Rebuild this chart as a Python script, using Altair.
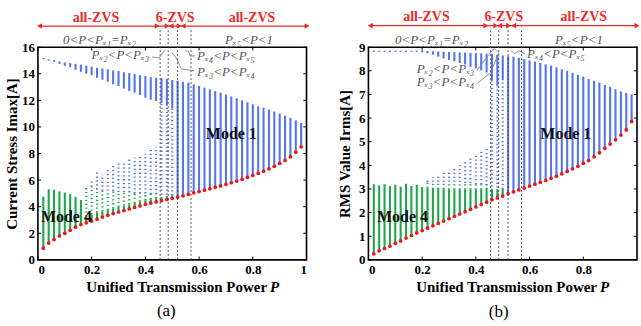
import altair as alt
import pandas as pd

FONT = "Liberation Serif"
BLUE = "#5474f2"
GREEN = "#1fa64a"
RED = "#f01414"
ARROW = "#f02828"
GREY = "#555555"

# unified transmission power samples
P = [0.02, 0.04, 0.06, 0.08, 0.10, 0.12, 0.14, 0.16, 0.18, 0.20,
     0.22, 0.24, 0.26, 0.28, 0.30, 0.32, 0.34, 0.36, 0.38, 0.40,
     0.42, 0.44, 0.46, 0.48, 0.50, 0.52, 0.54, 0.56, 0.58, 0.60,
     0.62, 0.64, 0.66, 0.68, 0.70, 0.72, 0.74, 0.76, 0.78, 0.80,
     0.82, 0.84, 0.86, 0.88, 0.90, 0.92, 0.94, 0.96, 0.98]
N = None

# ---------------- panel (a): current stress Imax ----------------
a_red = [0.88, 1.26, 1.53, 1.80, 2.00, 2.23, 2.46, 2.65, 2.79, 2.92,
         3.06, 3.22, 3.35, 3.48, 3.60, 3.71, 3.83, 3.94, 4.06, 4.18,
         4.28, 4.36, 4.45, 4.54, 4.63, 4.72, 4.82, 4.93, 5.04, 5.14,
         5.24, 5.34, 5.46, 5.56, 5.68, 5.80, 5.93, 6.06, 6.20, 6.35,
         6.50, 6.66, 6.84, 7.04, 7.25, 7.48, 7.75, 8.10, 8.50]
a_green_top = [4.75, 5.30, 5.28, 5.15, 5.05, 4.95, 4.75, 4.50, 3.25, 3.40,
               3.55, 3.65, 3.75, 3.88, 3.98, 4.08, 4.18, 4.28, 4.38, 4.48,
               4.56, 4.63, 4.72, 4.80, 4.85] + [N] * 24
a_green_dot_hi = [N] * 8 + [5.5, 5.5,
                  5.3, 5.2, 5.2, 5.2, 5.1, 5.1, 5.1, 5.0, 5.0, 5.0,
                  4.95, 4.95] + [N] * 27
a_bdot_lo = [N] * 9 + [5.5,
             5.3, 5.2, 5.2, 5.2, 5.1, 5.1, 5.1, 5.0, 5.0, 5.0,
             4.95, 4.95, 4.9, 4.9, 4.85] + [N] * 24
a_bdot_hi = [N] * 9 + [6.0,
             6.6, 6.4, 6.9, 7.1, 7.3, 7.4, 7.6, 7.7, 7.9, 8.0,
             8.3, 8.5, 11.8, 11.6, 11.4] + [N] * 24
a_blue_lo = [15.10, 15.00, 14.90, 14.75, 14.60, 14.50, 14.30, 14.15, 14.00, 13.88,
             13.70, 13.55, 13.40, 13.20, 13.08, 12.88, 12.70, 12.58, 12.40, 12.20,
             12.05, 11.95, 11.80, 11.60, 11.40] + [N] * 24
a_blue_hi = [15.20, 15.10, 15.02, 14.92, 14.85, 14.80, 14.75, 14.68, 14.60, 14.53,
             14.45, 14.40, 14.33, 14.25, 14.20, 14.12, 14.05, 13.98, 13.90, 13.83,
             13.75, 13.70, 13.68, 13.60, 13.53, 13.48, 13.40, 13.33, 13.20, 13.08,
             12.95, 12.83, 12.70, 12.58, 12.45, 12.30, 12.15, 12.00, 11.85, 11.70,
             11.55, 11.45, 11.30, 11.15, 11.00, 10.85, 10.68, 10.50, 10.30]

# ---------------- panel (b): RMS value Irms ----------------
b_red = [0.25, 0.38, 0.48, 0.58, 0.70, 0.80, 0.92, 1.03, 1.14, 1.24,
         1.34, 1.44, 1.54, 1.64, 1.74, 1.84, 1.94, 2.04, 2.14, 2.24,
         2.34, 2.44, 2.54, 2.62, 2.70, 2.80, 2.88, 2.96, 3.04, 3.12,
         3.20, 3.28, 3.36, 3.45, 3.54, 3.64, 3.74, 3.85, 3.96, 4.08,
         4.20, 4.36, 4.53, 4.72, 4.90, 5.08, 5.28, 5.50, 5.85]
b_green_top = [3.20, 3.15, 3.20, 3.12, 3.18, 3.10, 3.22, 3.12, 3.18, 3.08,
               3.05, 3.00, 3.00, 3.00, 2.98, 2.98, 2.98, 2.98, 2.98, 2.98,
               2.98, 3.00, 3.00, 3.00, 3.00] + [N] * 24
b_green_dot_hi = [N] * 10 + [3.3, 3.3, 3.3, 3.3, 3.3, 3.3, 3.3, 3.3, 3.3, 3.25,
                             3.25, 3.2] + [N] * 27
b_bdot_lo = [N] * 10 + [3.3, 3.3, 3.3, 3.3, 3.3, 3.3, 3.3, 3.25, 3.25, 3.2,
                        3.2, 3.15, 3.1, 3.05, 3.0] + [N] * 24
b_bdot_hi = [N] * 10 + [3.4, 3.5, 3.6, 3.7, 3.8, 3.9, 4.0, 4.2, 4.3, 4.45,
                        4.6, 4.8, 7.6, 7.4, 7.6] + [N] * 24
b_blue_lo = [8.80, 8.80, 8.80, 8.80, 8.80, 8.80, 8.80, 8.80, 8.80, 8.78,
             8.74, 8.68, 8.60, 8.52, 8.46, 8.40, 8.33, 8.27, 8.17, 8.10,
             8.02, 7.93, 7.60, 7.40, 7.60] + [N] * 24
b_blue_hi = [8.85, 8.85, 8.85, 8.85, 8.85, 8.85, 8.85, 8.85, 8.85, 8.85,
             8.84, 8.83, 8.82, 8.81, 8.80, 8.79, 8.78, 8.77, 8.76, 8.75,
             8.74, 8.73, 8.72, 8.68, 8.65, 8.62, 8.60, 8.55, 8.50, 8.44,
             8.39, 8.33, 8.27, 8.22, 8.15, 8.07, 8.00, 7.92, 7.83, 7.75,
             7.66, 7.58, 7.50, 7.40, 7.32, 7.22, 7.13, 7.06, 7.00]

# boundaries Px1..Px5 (dashed lines)
P_bounds = [0.455, 0.485, 0.52, 0.57]

# ---------------- annotation content (data coordinates) ----------------
ANN = {
    "a": dict(
        zvs=[("all-ZVS", 0.216), ("6-ZVS", 0.511), ("all-ZVS", 0.797)], zvs_v=18.22,
        arrow_v=17.59, arrow_span=[0.006, 1.002],
        heads=[(0.006, "L"), (0.444, "R"), (0.481, "R"), (0.496, "L"),
               (0.526, "R"), (0.541, "L"), (1.002, "R")],
        dash_top=17.4,
        regions=[("0<P<Pₓ₁=Pₓ₂", 0.229, 16.54), ("Pₓ₅<P<1", 0.786, 16.54),
                 ("Pₓ₂<P<Pₓ₃", 0.307, 15.42), ("Pₓ₄<P<Pₓ₅", 0.70, 15.34),
                 ("Pₓ₃<P<Pₓ₄", 0.70, 14.16)],
        leaders=[[(0.426, 15.26), (0.452, 15.19), (0.463, 15.56), (0.474, 15.79)],
                 [(0.586, 15.34), (0.567, 15.34), (0.56, 15.71), (0.548, 15.71)],
                 [(0.582, 14.21), (0.534, 14.36), (0.515, 15.19), (0.50, 15.56)]],
        modes=[("Mode 1", 0.72, 9.5), ("Mode 4", 0.106, 3.23)],
        caption=("(a)", 0.478, -3.83),
        xtitle=("Unified Transmission Power", 0.853, "P", 0.864, -2.07),
        ymax=16, yticks=[0, 2, 4, 6, 8, 10, 12, 14, 16],
        xticks=[0, 0.2, 0.4, 0.6, 0.8, 1],
        ytitle="Current Stress Imax[A]", tick_v=0.25),
    "b": dict(
        zvs=[("all-ZVS", 0.216), ("6-ZVS", 0.504), ("all-ZVS", 0.802)], zvs_v=10.27,
        arrow_v=9.91, arrow_span=[0.007, 1.0],
        heads=[(0.007, "L"), (0.437, "R"), (0.474, "R"), (0.489, "L"),
               (0.522, "R"), (0.541, "L"), (1.0, "R")],
        dash_top=9.83,
        regions=[("0<P<Pₓ₁=Pₓ₂", 0.235, 9.32), ("Pₓ₅<P<1", 0.784, 9.32),
                 ("Pₓ₂<P<Pₓ₃", 0.287, 8.09), ("Pₓ₃<P<Pₓ₄", 0.287, 7.51),
                 ("Pₓ₄<P<Pₓ₅", 0.698, 8.73)],
        leaders=[[(0.403, 8.0), (0.459, 8.85), (0.47, 8.93), (0.481, 8.8)],
                 [(0.403, 7.45), (0.455, 7.92), (0.485, 8.77)],
                 [(0.582, 8.73), (0.56, 8.85), (0.545, 8.73), (0.53, 8.85)]],
        modes=[("Mode 1", 0.735, 5.34), ("Mode 4", 0.127, 1.8)],
        caption=("(b)", 0.485, -2.19),
        xtitle=("Unified Transmission Power", 0.851, "P", 0.862, -1.17),
        ymax=9, yticks=[0, 1, 2, 3, 4, 5, 6, 7, 8, 9],
        xticks=[0, 0.2, 0.4, 0.6, 0.8],
        ytitle="RMS Value Irms[A]", tick_v=0.14),
}


def panel(red, g_top, g_dot_hi, bd_lo, bd_hi, b_lo, b_hi, ann, title_pad):
    rows = []
    for i, p in enumerate(P):
        base = g_top[i] if g_top[i] is not None else red[i]
        if g_top[i] is not None:
            rows.append({"P": p, "v": red[i], "v2": g_top[i], "kind": "green"})
        if g_dot_hi[i] is not None:
            rows.append({"P": p, "v": base, "v2": g_dot_hi[i], "kind": "greendot"})
        if bd_lo[i] is not None:
            rows.append({"P": p, "v": bd_lo[i], "v2": bd_hi[i], "kind": "bluedot"})
        lo = b_lo[i] if b_lo[i] is not None else base
        rows.append({"P": p, "v": lo, "v2": b_hi[i], "kind": "blue"})
    seg = pd.DataFrame(rows)
    red_df = pd.DataFrame({"P": P, "v": red})

    ymax = ann["ymax"]
    x = alt.X("P:Q", scale=alt.Scale(domain=[0, 1], nice=False, zero=False),
              axis=alt.Axis(values=ann["xticks"], format="~g", title=None,
                            labelPadding=4))
    y = alt.Y("v:Q", scale=alt.Scale(domain=[0, ymax], nice=False, zero=False),
              axis=alt.Axis(values=ann["yticks"], title=ann["ytitle"],
                            labelPadding=3.5, titlePadding=title_pad))

    base = alt.Chart(seg)
    blue = base.transform_filter("datum.kind == 'blue'").mark_rule(
        color=BLUE, strokeWidth=2.1).encode(x=x, y=y, y2="v2:Q")
    bluedot = base.transform_filter("datum.kind == 'bluedot'").mark_rule(
        color=BLUE, strokeWidth=2.1, strokeDash=[1.3, 2.6]).encode(x=x, y=y, y2="v2:Q")
    green = base.transform_filter("datum.kind == 'green'").mark_rule(
        color=GREEN, strokeWidth=2.1).encode(x=x, y=y, y2="v2:Q")
    greendot = base.transform_filter("datum.kind == 'greendot'").mark_rule(
        color=GREEN, strokeWidth=2.1, strokeDash=[1.3, 2.6]).encode(x=x, y=y, y2="v2:Q")
    reds = alt.Chart(red_df).mark_circle(color=RED, size=14, opacity=1).encode(x=x, y=y)

    dash_df = pd.DataFrame({"P": P_bounds, "v": [0] * len(P_bounds),
                            "v2": [ann["dash_top"]] * len(P_bounds)})
    dashes = alt.Chart(dash_df).mark_rule(color="#444444", strokeWidth=0.9,
                                          strokeDash=[2, 2]).encode(x=x, y=y, y2="v2:Q")

    # inward ticks
    tv = ann["tick_v"]
    xt_rows = []
    for t in ann["xticks"]:
        xt_rows.append({"P": t, "v": 0, "v2": tv})
        xt_rows.append({"P": t, "v": ymax - tv, "v2": ymax})
    xt = alt.Chart(pd.DataFrame(xt_rows)).mark_rule(color="black", strokeWidth=1).encode(
        x=x, y=y, y2="v2:Q")
    yt_rows = []
    for t in ann["yticks"]:
        yt_rows.append({"P": 0, "P2": 0.012, "v": t})
        yt_rows.append({"P": 0.988, "P2": 1, "v": t})
    yt = alt.Chart(pd.DataFrame(yt_rows)).mark_rule(color="black", strokeWidth=1).encode(
        x=x, x2="P2:Q", y=y)

    # top red ZVS annotations
    zvs_df = pd.DataFrame({"text": [t for t, _ in ann["zvs"]],
                           "P": [p for _, p in ann["zvs"]],
                           "v": [ann["zvs_v"]] * len(ann["zvs"])})
    zvs = alt.Chart(zvs_df).mark_text(font=FONT, fontSize=14, fontWeight="bold",
                                      color=ARROW).encode(x=x, y=y, text="text:N")
    arr_df = pd.DataFrame({"P": ann["arrow_span"], "v": [ann["arrow_v"]] * 2})
    arr = alt.Chart(arr_df).mark_line(color=ARROW, strokeWidth=1.2).encode(x=x, y=y)
    hl = pd.DataFrame({"P": [p for p, d in ann["heads"] if d == "L"]})
    hl["v"] = ann["arrow_v"]
    hr = pd.DataFrame({"P": [p for p, d in ann["heads"] if d == "R"]})
    hr["v"] = ann["arrow_v"]
    head_l = alt.Chart(hl).mark_point(shape="triangle-left", filled=True, size=32,
                                      color=ARROW, opacity=1).encode(x=x, y=y)
    head_r = alt.Chart(hr).mark_point(shape="triangle-right", filled=True, size=32,
                                      color=ARROW, opacity=1).encode(x=x, y=y)

    reg_df = pd.DataFrame(ann["regions"], columns=["text", "P", "v"])
    regs = alt.Chart(reg_df).mark_text(font=FONT, fontSize=13, fontStyle="italic",
                                       color=GREY).encode(x=x, y=y, text="text:N")
    lrows = []
    for g, pts in enumerate(ann["leaders"]):
        for i, (p, v) in enumerate(pts):
            lrows.append({"g": g, "i": i, "P": p, "v": v})
    leaders = alt.Chart(pd.DataFrame(lrows)).mark_line(color="#777777", strokeWidth=0.8).encode(
        x=x, y=y, detail="g:N", order="i:Q")

    mode_df = pd.DataFrame(ann["modes"], columns=["text", "P", "v"])
    modes = alt.Chart(mode_df).mark_text(font=FONT, fontSize=16, fontWeight="bold",
                                         color="#111111").encode(x=x, y=y, text="text:N")
    cap_df = pd.DataFrame([ann["caption"]], columns=["text", "P", "v"])
    cap = alt.Chart(cap_df).mark_text(font=FONT, fontSize=17, color="black").encode(
        x=x, y=y, text="text:N")

    t1, p1, t2, p2, tv_ = ann["xtitle"]
    xt1 = alt.Chart(pd.DataFrame({"text": [t1], "P": [p1], "v": [tv_]})).mark_text(
        font=FONT, fontSize=15, fontWeight="bold", align="right", color="black").encode(
        x=x, y=y, text="text:N")
    xt2 = alt.Chart(pd.DataFrame({"text": [t2], "P": [p2], "v": [tv_]})).mark_text(
        font=FONT, fontSize=15, fontWeight="bold", fontStyle="italic", align="left",
        color="black").encode(x=x, y=y, text="text:N")

    return alt.layer(blue, bluedot, green, greendot, reds, dashes, xt, yt,
                     arr, head_l, head_r, zvs, regs, leaders, modes, cap,
                     xt1, xt2).properties(width=269, height=213)


pa = panel(a_red, a_green_top, a_green_dot_hi, a_bdot_lo, a_bdot_hi,
           a_blue_lo, a_blue_hi, ANN["a"], 1.5)
pb = panel(b_red, b_green_top, b_green_dot_hi, b_bdot_lo, b_bdot_hi,
           b_blue_lo, b_blue_hi, ANN["b"], 6)

chart = alt.hconcat(pa, pb, spacing=62, bounds="flush").properties(
    padding={"left": 4, "top": 9, "right": 0, "bottom": 0}
).configure_view(stroke="black", strokeWidth=1.6).configure_axis(
    labelFont=FONT, titleFont=FONT, labelFontWeight="bold", titleFontWeight="bold",
    labelFontSize=13, titleFontSize=15, labelColor="black", titleColor="black",
    grid=False, domain=False, ticks=False
).configure_text(font=FONT)

chart.save("out.html", embed_options={"renderer": "svg", "actions": False})
